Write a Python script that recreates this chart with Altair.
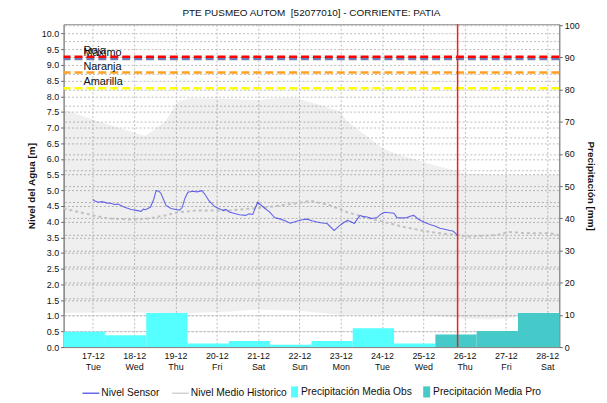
import altair as alt
import pandas as pd

FONT = "Liberation Sans"

CHART_TITLE = "PTE PUSMEO AUTOM\u00a0 [52077010] - CORRIENTE: PATIA"
LEFT_TITLE = "Nivel del Agua [m]"
RIGHT_TITLE = "Precipitación [mm]"

# x axis: day offsets from 17-12 (0 = 17-12 00:00)
tick_days = [0, 1, 2, 3, 4, 5, 6, 7, 8, 9, 10, 11]
tick_dates = ["17-12", "18-12", "19-12", "20-12", "21-12", "22-12",
              "23-12", "24-12", "25-12", "26-12", "27-12", "28-12"]
tick_weekdays = ["Tue", "Wed", "Thu", "Fri", "Sat", "Sun",
                 "Mon", "Tue", "Wed", "Thu", "Fri", "Sat"]
x_domain = [-0.7083, 11.2917]

# Nivel Sensor
sensor_day = [0.0, 0.05, 0.13, 0.22, 0.33, 0.45, 0.52, 0.61, 0.75, 0.93, 1.05, 1.17,
              1.22, 1.27, 1.39, 1.47, 1.53, 1.60, 1.65, 1.77,
              1.89, 2.01, 2.10, 2.16, 2.23, 2.30, 2.42, 2.52, 2.64, 2.72, 2.81, 2.95,
              3.05, 3.15, 3.22, 3.30, 3.43, 3.55, 3.70, 3.78,
              3.87, 3.99, 4.16, 4.27, 4.40, 4.52, 4.64, 4.78, 4.95, 5.07, 5.19, 5.30,
              5.43, 5.55, 5.67, 5.84,
              5.98, 6.05, 6.16, 6.25, 6.33, 6.40, 6.47, 6.55, 6.64, 6.75, 6.88, 6.97,
              7.07, 7.29, 7.36, 7.48, 7.60, 7.70, 7.77,
              7.88, 8.01, 8.16, 8.28, 8.40, 8.52, 8.64, 8.72, 8.80, 8.83]
sensor_level = [4.71, 4.66, 4.62, 4.64, 4.60, 4.58, 4.55, 4.56, 4.47, 4.39, 4.36, 4.33,
                4.40, 4.38, 4.46, 4.70, 4.99, 4.97, 4.90, 4.52,
                4.42, 4.39, 4.37, 4.45, 4.75, 4.94, 4.97, 4.95, 4.99, 4.86, 4.67, 4.48,
                4.42, 4.36, 4.39, 4.31, 4.26, 4.22, 4.20, 4.25,
                4.23, 4.62, 4.43, 4.32, 4.13, 4.09, 4.04, 3.95, 4.02, 4.06, 4.08, 4.03,
                3.99, 3.96, 3.94, 3.72,
                3.88, 3.95, 4.04, 4.00, 3.94, 4.08, 4.20, 4.16, 4.15, 4.10, 4.13, 4.24,
                4.30, 4.27, 4.13, 4.12, 4.13, 4.18, 4.20,
                4.08, 3.99, 3.91, 3.86, 3.79, 3.76, 3.72, 3.70, 3.60, 3.55]

# Nivel Medio Historico
hist_day = [-0.71, 0.01, 0.37, 0.93, 1.34, 1.75, 2.06, 2.54, 3.34, 4.16, 4.95,
            5.27, 5.75, 6.16, 6.57, 7.05, 7.53, 8.16, 8.81, 9.12, 9.77, 10.08,
            10.57, 11.05, 11.29]
hist_level = [4.42, 4.20, 4.10, 4.07, 4.10, 4.20, 4.30, 4.36, 4.36, 4.45, 4.59,
              4.67, 4.52, 4.30, 4.15, 3.99, 3.83, 3.67, 3.57, 3.53, 3.57, 3.67,
              3.63, 3.63, 3.57]

# historic range band
band_day = [-0.71, 0.13, 1.27, 1.75, 2.06, 2.37, 3.27, 3.99, 4.47, 4.95, 5.98,
            6.16, 6.57, 7.05, 7.36, 8.16, 8.81, 8.98, 9.60, 10.20, 10.70, 11.29]
band_upper = [7.58, 7.20, 6.73, 7.20, 7.84, 7.94, 7.92, 7.88, 7.94, 7.94, 7.52,
              7.20, 6.79, 6.32, 6.16, 5.84, 5.62, 5.53, 5.50, 5.50, 5.50, 5.50]
band_lower = [1.09, 1.10, 1.10, 1.09, 1.09, 1.09, 1.13, 1.19, 1.17, 1.16, 1.03,
              1.03, 1.03, 1.03, 1.03, 1.00, 0.94, 0.90, 0.88, 0.94, 1.09, 1.10]

# daily precipitation (07:00 to 07:00)
precip_start = [-0.7083, 0.2917, 1.2917, 2.2917, 3.2917, 4.2917, 5.2917,
                6.2917, 7.2917, 8.2917, 9.2917, 10.2917]
precip_end = [0.2917, 1.2917, 2.2917, 3.2917, 4.2917, 5.2917, 6.2917,
              7.2917, 8.2917, 9.2917, 10.2917, 11.2917]
precip_mm = [4.75, 3.7, 10.6, 1.1, 1.85, 0.7, 1.85, 5.8, 1.1, 3.9, 4.95, 10.6]
precip_series = ["Precipitación Media Obs"] * 9 + ["Precipitación Media Pro"] * 3

# alert thresholds
threshold_names = ["Máximo", "Roja", "Naranja", "Amarilla"]
threshold_levels = [9.19, 9.26, 8.76, 8.26]
threshold_colors = ["#6f7bb0", "#ff0000", "#ffa020", "#ffff00"]
threshold_label_day = [-0.23, -0.23, -0.23, -0.23]

now_day = [8.83]

line_series = ["Nivel Sensor", "Nivel Medio Historico"]
line_colors = ["#2a2ae8", "#c0c0c0"]
bar_series = ["Precipitación Media Obs", "Precipitación Media Pro"]
bar_colors = ["#55ffff", "#45c9c9"]

GRID = "#bdbdbd"

sensor_df = pd.DataFrame({"day": sensor_day, "level": sensor_level, "serie": "Nivel Sensor"})
hist_df = pd.DataFrame({"day": hist_day, "level": hist_level, "serie": "Nivel Medio Historico"})
band_df = pd.DataFrame({"day": band_day, "upper": band_upper, "lower": band_lower})
precip_df = pd.DataFrame({"start": precip_start, "end": precip_end, "mm": precip_mm,
                          "serie": precip_series})
thr_df = pd.DataFrame({"name": threshold_names, "level": threshold_levels,
                       "color": threshold_colors, "lx": threshold_label_day})
now_df = pd.DataFrame({"day": now_day})


def js_list(items):
    return "[" + ",".join("'" + s + "'" for s in items) + "]"


label_expr = "[" + js_list(tick_dates) + "[datum.value], " + js_list(tick_weekdays) + "[datum.value]]"

x_axis = alt.Axis(values=tick_days, labelExpr=label_expr, title=None, grid=True,
                  gridDash=[2, 2], gridColor=GRID, tickSize=0, labelPadding=5,
                  labelFontSize=9, labelLineHeight=11, labelBaseline="top",
                  domainColor="#888888", labelColor="#111111")
x_scale = alt.Scale(domain=x_domain, nice=False, zero=False)


def X(field):
    return alt.X(f"{field}:Q", scale=x_scale, axis=x_axis)


yl_scale = alt.Scale(domain=[0, 10.3], nice=False, zero=True)
yl_axis = alt.Axis(orient="left", values=[i * 0.5 for i in range(21)], format=".1f",
                   title=LEFT_TITLE, titleFontSize=10, titleFontWeight="bold",
                   titlePadding=5, grid=True, gridDash=[2, 2], gridColor=GRID,
                   tickSize=3, tickColor="#666666", labelFontSize=9, labelPadding=2,
                   domainColor="#888888", labelColor="#111111", titleColor="#111111")

yr_scale = alt.Scale(domain=[0, 100.3], nice=False, zero=True)
yr_axis = alt.Axis(orient="right", values=list(range(0, 101, 5)),
                   labelExpr="datum.value % 10 == 0 ? datum.value : ''",
                   tickOpacity={"condition": {"test": "datum.value % 10 == 0", "value": 1}, "value": 0},
                   title=RIGHT_TITLE, titleFontSize=10, titleFontWeight="bold",
                   titlePadding=6, grid=True, gridDash=[2, 2], gridColor=GRID,
                   tickSize=3, tickColor="#666666", labelFontSize=9, labelPadding=2,
                   domainColor="#888888", labelColor="#111111", titleColor="#111111")

line_legend = alt.Legend(orient="none", legendX=18, legendY=362, direction="horizontal",
                         title=None, symbolType="stroke", symbolSize=289,
                         symbolStrokeWidth=1.5, labelFontSize=10.3, labelOffset=1,
                         columnPadding=9, labelColor="#111111", labelFont=FONT,
                         symbolDash=[1, 0])
fill_legend = alt.Legend(orient="none", legendX=222, legendY=363, direction="horizontal",
                         title=None, symbolType="M0,-0.8H1V0.8H0Z", symbolSize=196,
                         symbolStrokeWidth=0, labelFontSize=10.3, labelOffset=3,
                         columnPadding=4, labelColor="#111111", labelFont=FONT)

color_enc = alt.Color("serie:N", scale=alt.Scale(domain=line_series, range=line_colors),
                      legend=line_legend)

band = alt.Chart(band_df).mark_area(color="black", opacity=0.062).encode(
    x=X("day"), y=alt.Y("upper:Q", scale=yl_scale, axis=yl_axis), y2="lower:Q")

hist = alt.Chart(hist_df).mark_line(strokeDash=[3, 3], strokeWidth=2).encode(
    x=X("day"), y=alt.Y("level:Q", scale=yl_scale, axis=yl_axis), color=color_enc)

sensor = alt.Chart(sensor_df).mark_line(strokeWidth=1.1, opacity=0.7).encode(
    x=X("day"), y=alt.Y("level:Q", scale=yl_scale, axis=yl_axis), color=color_enc)

thr_rules = alt.Chart(thr_df).mark_rule(strokeDash=[8, 4], strokeWidth=2.5).encode(
    y=alt.Y("level:Q", scale=yl_scale, axis=yl_axis),
    stroke=alt.Stroke("color:N", scale=None))

thr_text = alt.Chart(thr_df).mark_text(align="left", baseline="alphabetic", dy=-3,
                                       fontSize=11, font=FONT, color="#111111").encode(
    x=X("lx"), y=alt.Y("level:Q", scale=yl_scale, axis=yl_axis), text="name:N")

left = alt.layer(band, hist, sensor, thr_rules, thr_text)

bars = alt.Chart(precip_df).mark_rect().encode(
    x=X("start"), x2="end:Q",
    y=alt.Y("mm:Q", scale=yr_scale, axis=yr_axis), y2=alt.datum(0),
    fill=alt.Fill("serie:N", scale=alt.Scale(domain=bar_series, range=bar_colors),
                  legend=fill_legend))

now_rule = alt.Chart(now_df).mark_rule(strokeWidth=1.5).encode(
    x=X("day"), stroke=alt.value("#f02020"))

chart = alt.layer(left, bars, now_rule).resolve_scale(y="independent").properties(
    width=499, height=325,
    autosize=alt.AutoSizeParams(type="none"),
    padding={"left": 56, "top": 15, "right": 40, "bottom": 55},
    title=alt.TitleParams(text=CHART_TITLE, fontSize=10, fontWeight="normal",
                          anchor="middle", offset=3, color="#111111", font=FONT),
).configure_view(stroke="#8a8a8a", fill="white").configure_axis(
    labelFont=FONT, titleFont=FONT
).configure_legend(labelFont=FONT)

chart.save("out.html", embed_options={"renderer": "svg", "actions": False})
